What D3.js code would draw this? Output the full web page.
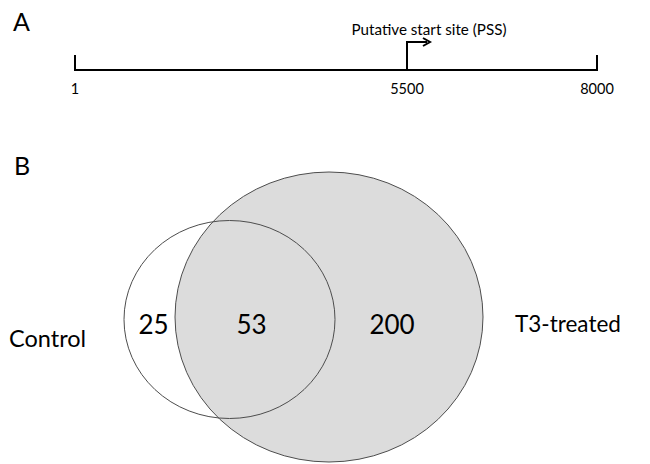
<!DOCTYPE html>
<html>
<head>
<meta charset="utf-8">
<script src="https://cdn.jsdelivr.net/npm/d3@7"></script>
<style>
  html, body { margin: 0; padding: 0; background: #fff; }
  svg { display: block; font-family: Lato, "Open Sans", sans-serif; }
</style>
</head>
<body>
<svg id="fig" width="650" height="464"></svg>
<script>
// Panel A: gene region coordinates
const regionTicks = [1, 5500, 8000];
const regionTickLabels = ["1", "5500", "8000"];
const pssPosition = 5500;
const pssLabel = "Putative start site (PSS)";

// Panel B: overlap of genes between conditions
const setNames = ["Control", "T3-treated"];
const regionNames = ["Control only", "Both", "T3-treated only"];
const regionCounts = [25, 53, 200];

const svg = d3.select("#fig");
const ink = "#000";

// ---------- Panel A ----------
svg.append("text").attr("x", 13).attr("y", 31)
  .attr("font-size", 25).attr("fill", ink).text("A");

// schematic (not to scale) coordinate axis
const x = d3.scaleLinear().domain(regionTicks).range([75, 407, 597]);
const lineY = 70;
const gA = svg.append("g");

gA.append("path")
  .attr("d", `M${x(1)},${lineY - 15}V${lineY}H${x(8000)}V${lineY - 15}`)
  .attr("fill", "none").attr("stroke", ink).attr("stroke-width", 2);

gA.selectAll("text.tick").data(regionTicks).join("text")
  .attr("class", "tick")
  .attr("x", d => x(d)).attr("y", lineY + 24)
  .attr("text-anchor", "middle").attr("font-size", 14.5).attr("fill", ink)
  .text((d, i) => regionTickLabels[i]);

// start-site arrow
const px = x(pssPosition);
const arrowY = lineY - 28;
gA.append("path")
  .attr("d", `M${px},${lineY}V${arrowY}H${px + 20}`)
  .attr("fill", "none").attr("stroke", ink).attr("stroke-width", 2);
gA.append("path")
  .attr("d", `M${px + 16},${arrowY - 4}L${px + 23},${arrowY}L${px + 16},${arrowY + 4}`)
  .attr("fill", "none").attr("stroke", ink).attr("stroke-width", 2);
gA.append("text")
  .attr("x", px + 22).attr("y", arrowY - 7)
  .attr("text-anchor", "middle").attr("font-size", 15.2).attr("fill", ink)
  .text(pssLabel);

// ---------- Panel B ----------
svg.append("text").attr("x", 14).attr("y", 175)
  .attr("font-size", 25).attr("fill", ink).text("B");

const ellipses = [
  { name: setNames[0], cx: 229.5, cy: 319.5, rx: 105.5, ry: 99 },
  { name: setNames[1], cx: 329, cy: 317, rx: 154, ry: 145 }
];

const gB = svg.append("g");
// large set filled, drawn first
gB.append("ellipse")
  .attr("cx", ellipses[1].cx).attr("cy", ellipses[1].cy)
  .attr("rx", ellipses[1].rx).attr("ry", ellipses[1].ry)
  .attr("fill", "#dcdcdc").attr("stroke", "#4d4d4d").attr("stroke-width", 1);
// small set outline on top
gB.append("ellipse")
  .attr("cx", ellipses[0].cx).attr("cy", ellipses[0].cy)
  .attr("rx", ellipses[0].rx).attr("ry", ellipses[0].ry)
  .attr("fill", "none").attr("stroke", "#4d4d4d").attr("stroke-width", 1);

// count labels per region
const regionX = [153.5, 251.5, 392];
gB.selectAll("text.count").data(regionCounts).join("text")
  .attr("class", "count")
  .attr("x", (d, i) => regionX[i]).attr("y", 334)
  .attr("text-anchor", "middle").attr("font-size", 26).attr("fill", ink)
  .text(d => d);

// set names
svg.append("text").attr("x", 9).attr("y", 347)
  .attr("font-size", 23.5).attr("fill", ink).text(setNames[0]);
svg.append("text").attr("x", 515).attr("y", 332)
  .attr("font-size", 22.5).attr("fill", ink).text(setNames[1]);
</script>
</body>
</html>
